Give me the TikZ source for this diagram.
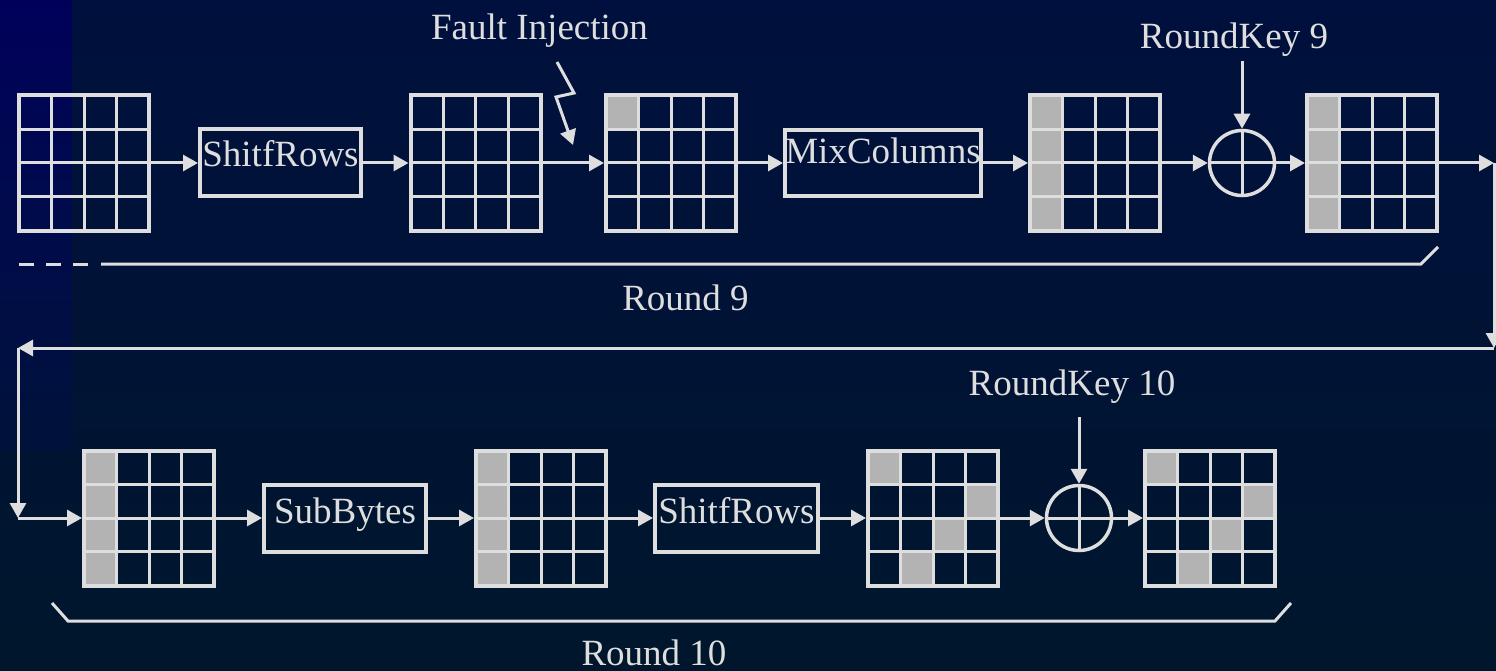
\documentclass[tikz,border=0pt]{standalone}
\usepackage{fontspec}
\setmainfont{Liberation Serif}
\usetikzlibrary{arrows.meta,calc}
\definecolor{ln}{HTML}{DEDEDE}
\definecolor{cellc}{HTML}{B3B3B3}
\definecolor{bgtop}{RGB}{0,16,62}
\definecolor{bgbot}{RGB}{0,22,44}
\definecolor{stripA}{RGB}{0,0,90}
\definecolor{stripB}{RGB}{0,10,78}
\definecolor{stripC}{RGB}{0,18,58}
\tikzset{
  arr/.style={draw=ln, line width=3pt, -{Triangle[length=15pt,width=16pt]}},
  gridbox/.style={draw=ln, line width=4pt, minimum width=130pt, minimum height=135pt, inner sep=0pt},
  gridline/.style={draw=ln, line width=3pt},
  opbox/.style={draw=ln, line width=4pt, inner sep=0pt},
  lbl/.style={text=ln, font=\fontsize{37}{40}\selectfont, inner sep=0pt, anchor=base},
  xorc/.style={circle, draw=ln, line width=3.5pt, minimum size=65pt, inner sep=0pt},
  bracketline/.style={draw=ln, line width=3pt},
}
\newcommand{\aescells}[3]{%
  \foreach \c/\r in {#3}{\fill[cellc] (#1-65+\c*32.5, #2-67.5+\r*33.75) rectangle ++(32.5,33.75);}%
}
\newcommand{\aesgrid}[3]{%
  \foreach \i in {1,2,3}{%
    \draw[gridline] (#2-65+\i*32.5, #3-67.5) -- (#2-65+\i*32.5, #3+67.5);
    \draw[gridline] (#2-65, #3-67.5+\i*33.75) -- (#2+65, #3-67.5+\i*33.75);
  }%
  \node[gridbox] (#1) at (#2,#3) {};%
}
\begin{document}
\begin{tikzpicture}[x=1pt,y=-1pt]
% background
\shade[top color=bgtop, bottom color=bgbot] (0,0) rectangle (1496,671);
\useasboundingbox (0,0) rectangle (1496,671);
\shade[top color=stripA, bottom color=stripB] (0,0) rectangle (72,190);
\shade[top color=stripB, bottom color=stripC] (0,190) rectangle (72,450);

% ---------- Round 9 ----------
\aesgrid{g1}{84}{163}
\node[opbox, minimum width=161pt, minimum height=67pt] (sr1) at (280.5,163) {};
\node[lbl] (sr1t) at (280.5,167) {ShitfRows};
\aesgrid{g2}{475.5}{163}
\aescells{671}{163}{0/0}
\aesgrid{g3}{671}{163}
\node[opbox, minimum width=196pt, minimum height=66pt] (mc) at (883,163) {};
\node[lbl] (mct) at (883,164) {MixColumns};
\aescells{1095}{163}{0/0,0/1,0/2,0/3}
\aesgrid{g4}{1095}{163}
\node[xorc] (x1) at (1242,163) {};
\draw[gridline] (x1.north) -- (x1.south) (x1.west) -- (x1.east);
\aescells{1372}{163}{0/0,0/1,0/2,0/3}
\aesgrid{g5}{1372}{163}

\node[lbl] (fault) at (539.5,40) {Fault Injection};
\node[lbl] (rk9) at (1234,49) {RoundKey 9};
\node[lbl] (r9) at (685.5,310) {Round 9};

\coordinate (f1) at (557,62);
\coordinate (f2) at (574,93);
\coordinate (f3) at (556,97);
\coordinate (f4) at (573,145);
\draw[arr, line join=miter] (f1) -- (f2) -- (f3) -- (f4);

\draw[arr] (g1.east) -- (sr1.west);
\draw[arr] (sr1.east) -- (g2.west);
\draw[arr] (g2.east) -- (g3.west);
\draw[arr] (g3.east) -- (mc.west);
\draw[arr] (mc.east) -- (g4.west);
\draw[arr] (g4.east) -- (x1.west);
\draw[arr] (x1.east) -- (g5.west);
\coordinate (k9) at (1242,61);
\draw[arr] (k9) -- (x1.north);

\coordinate (c1) at (1494,163);
\coordinate (c2) at (1494,348);
\coordinate (c3) at (18,348);
\coordinate (c4) at (18,518);
\draw[arr] (g5.east) -- (c1);
\draw[arr] (c1) -- (c2);
\draw[arr] (c2) -- (c3);
\draw[arr] (c3) -- (c4);

% round 9 bracket
\coordinate (b9a) at (19,264);
\coordinate (b9b) at (89,264);
\coordinate (b9c) at (101,264);
\coordinate (b9d) at (1421,264);
\coordinate (b9e) at (1438,247);
\draw[bracketline, dash pattern=on 15pt off 12pt] (b9a) -- (b9b);
\draw[bracketline] (b9c) -- (b9d) -- (b9e);

% ---------- Round 10 ----------
\aescells{149}{518}{0/0,0/1,0/2,0/3}
\aesgrid{g6}{149}{518}
\draw[arr] (c4) -- (g6.west);
\node[opbox, minimum width=162pt, minimum height=67pt] (sb) at (345,518) {};
\node[lbl] (sbt) at (345,523) {SubBytes};
\aescells{541}{518}{0/0,0/1,0/2,0/3}
\aesgrid{g7}{541}{518}
\node[opbox, minimum width=163pt, minimum height=67pt] (sr2) at (736.5,518) {};
\node[lbl] (sr2t) at (736.5,523) {ShitfRows};
\aescells{933}{518}{0/0,3/1,2/2,1/3}
\aesgrid{g8}{933}{518}
\node[xorc] (x2) at (1079,518) {};
\draw[gridline] (x2.north) -- (x2.south) (x2.west) -- (x2.east);
\aescells{1210}{518}{0/0,3/1,2/2,1/3}
\aesgrid{g9}{1210}{518}

\draw[arr] (g6.east) -- (sb.west);
\draw[arr] (sb.east) -- (g7.west);
\draw[arr] (g7.east) -- (sr2.west);
\draw[arr] (sr2.east) -- (g8.west);
\draw[arr] (g8.east) -- (x2.west);
\draw[arr] (x2.east) -- (g9.west);
\coordinate (k10) at (1079,417);
\draw[arr] (k10) -- (x2.north);

\node[lbl] (rk10) at (1072,395) {RoundKey 10};
\node[lbl] (r10) at (654,665) {Round 10};

\coordinate (b10a) at (52,603);
\coordinate (b10b) at (68,621);
\coordinate (b10c) at (1275,621);
\coordinate (b10d) at (1291,603);
\draw[bracketline] (b10a) -- (b10b) -- (b10c) -- (b10d);
\end{tikzpicture}
\end{document}
